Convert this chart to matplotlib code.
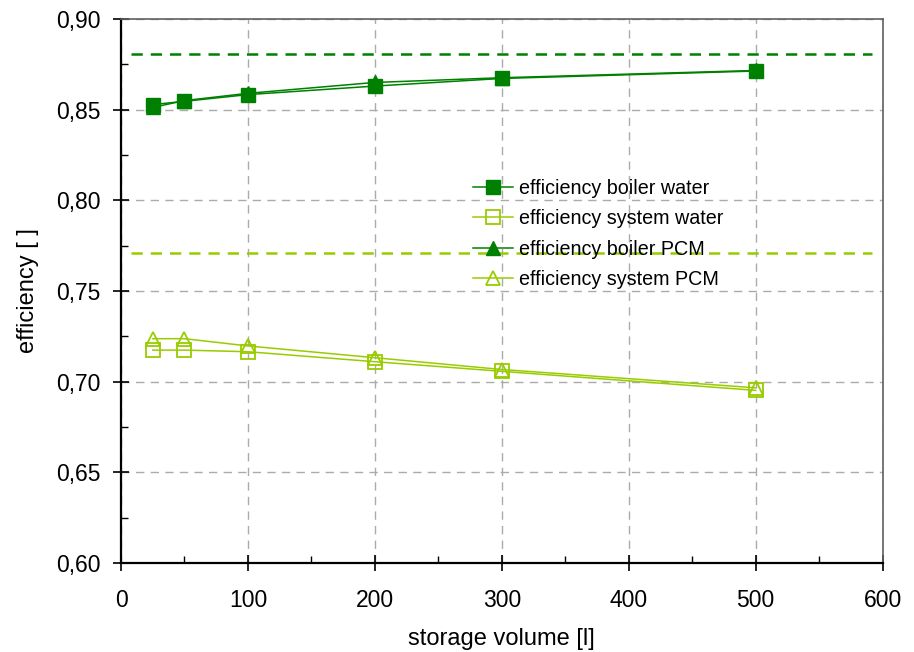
"""Efficiency vs storage volume, boiler and system, water vs PCM storage."""

import matplotlib
matplotlib.use("Agg")
import matplotlib.pyplot as plt
from matplotlib.ticker import FuncFormatter, MultipleLocator

plt.rcParams["font.family"] = ["Liberation Sans", "DejaVu Sans"]

volume = [25, 50, 100, 200, 300, 500]
boiler_water = [0.8528, 0.8546, 0.8583, 0.8630, 0.8672, 0.8713]
system_water = [0.7174, 0.7174, 0.7165, 0.7110, 0.7057, 0.6952]
boiler_pcm = [0.8512, 0.8550, 0.8590, 0.8650, 0.8676, 0.8716]
system_pcm = [0.7237, 0.7237, 0.7197, 0.7132, 0.7067, 0.6966]

ref_boiler = 0.8805
ref_system = 0.7710
ref_span = (8, 592)

dark = "#008000"
light = "#99CC00"

fig = plt.figure(figsize=(9.14, 6.52), dpi=100)
ax = fig.add_axes([0.1324, 0.1365, 0.8333, 0.8344])

ax.hlines(ref_boiler, *ref_span, colors=dark, linewidth=1.8,
          linestyles=(0, (4.5, 3.2)), zorder=3)
ax.hlines(ref_system, *ref_span, colors=light, linewidth=1.8,
          linestyles=(0, (4.5, 3.2)), zorder=3)

ax.plot(volume, boiler_water, color=dark, lw=1.1, marker="s", ms=10,
        mfc=dark, mec=dark, label="efficiency boiler water", zorder=4)
ax.plot(volume, system_water, color=light, lw=1.1, marker="s", ms=10,
        mfc="none", mec=light, mew=1.3, label="efficiency system water", zorder=4)
ax.plot(volume, boiler_pcm, color=dark, lw=1.1, marker="^", ms=10,
        mfc=dark, mec=dark, label="efficiency boiler PCM", zorder=5)
ax.plot(volume, system_pcm, color=light, lw=1.1, marker="^", ms=10,
        mfc="none", mec=light, mew=1.3, label="efficiency system PCM", zorder=5)

ax.set_xlim(0, 600)
ax.set_ylim(0.60, 0.90)
ax.xaxis.set_major_locator(MultipleLocator(100))
ax.xaxis.set_minor_locator(MultipleLocator(50))
ax.yaxis.set_major_locator(MultipleLocator(0.05))
ax.yaxis.set_minor_locator(MultipleLocator(0.025))
ax.yaxis.set_major_formatter(FuncFormatter(lambda v, _: f"{v:.2f}".replace(".", ",")))

ax.grid(True, which="major", color="#ABABAB", linestyle=(0, (6, 4.5)), linewidth=1.0)
ax.set_axisbelow(True)

for side in ("left", "bottom"):
    ax.spines[side].set_color("black")
    ax.spines[side].set_linewidth(1.6)
for side in ("top", "right"):
    ax.spines[side].set_color("#606060")
    ax.spines[side].set_linewidth(1.2)

ax.tick_params(which="major", direction="inout", length=12, width=1.2,
               labelsize=16.5, colors="black")
ax.tick_params(axis="x", which="major", pad=13)
ax.tick_params(axis="y", which="major", pad=9)
ax.tick_params(which="minor", direction="in", length=5, width=1.0)
ax.tick_params(axis="x", which="both", top=False)
ax.tick_params(axis="y", which="both", right=False)

ax.set_xlabel("storage volume [l]", fontsize=17, labelpad=11)
ax.set_ylabel("efficiency [ ]", fontsize=17, labelpad=12)

ax.legend(loc="upper left", bbox_to_anchor=(0.452, 0.721), frameon=False,
          fontsize=14.2, handlelength=2.0, handletextpad=0.3,
          labelspacing=0.58, borderaxespad=0)

fig.savefig("out.png", dpi=100)
